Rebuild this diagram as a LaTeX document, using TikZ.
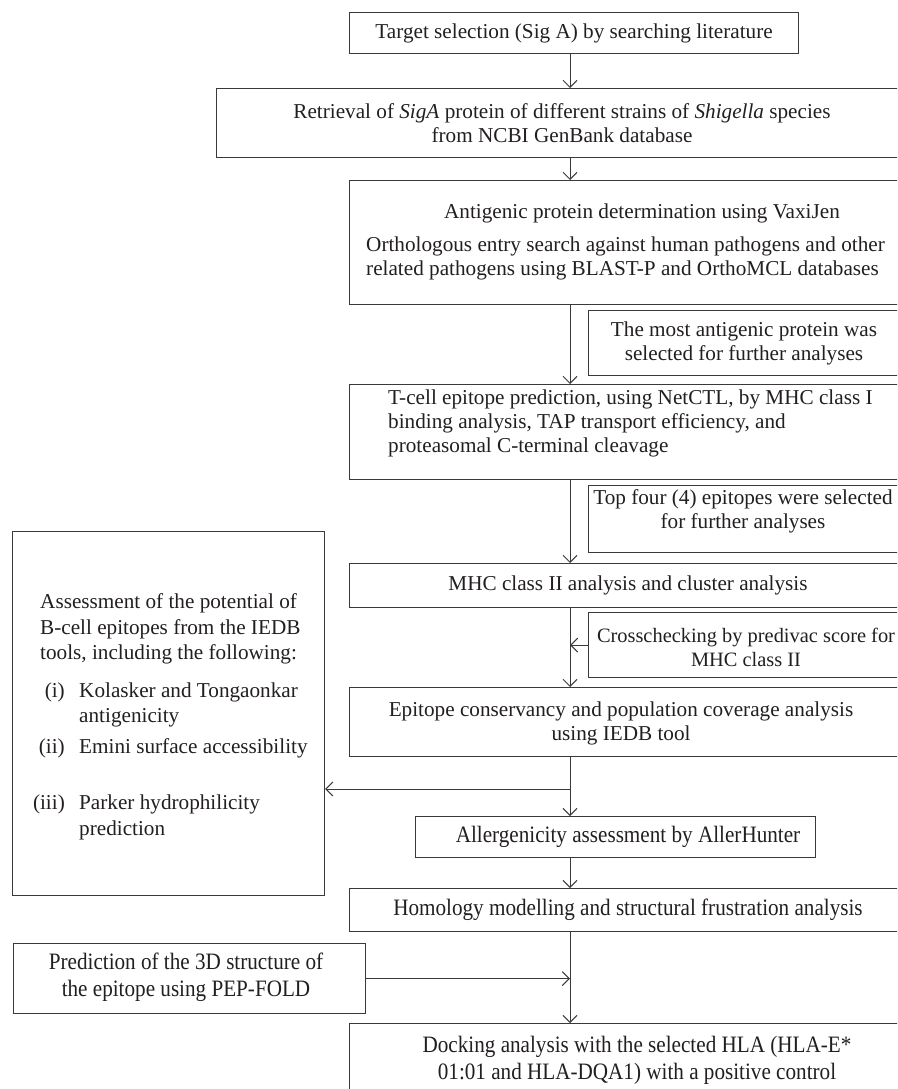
\documentclass[tikz,border=0pt]{standalone}
\usepackage{fontspec}
\setmainfont{Liberation Serif}
\newfontfamily\condfont[FakeStretch=0.9]{Liberation Serif}
\usetikzlibrary{arrows.meta}
\definecolor{ink}{HTML}{231F20}
\definecolor{edge}{HTML}{3A3A3A}
\newcommand\mybox[5]{\node[box,minimum width={(#4-#2)*1pt},minimum height={(#5-#3)*1pt}] (#1) at (#2,#3) {};}
\begin{document}
\begin{tikzpicture}[x=1pt,y=-1pt,
  box/.style={draw=edge, line width=1.2pt, inner sep=0pt, anchor=north west},
  txt/.style={inner sep=0pt, text=ink, font=\fontsize{21.2}{24}\selectfont, align=center},
  ctxt/.style={inner sep=0pt, text=ink, font=\condfont\fontsize{23.5}{27}\selectfont, align=center},
  ltxt/.style={inner sep=0pt, text=ink, font=\fontsize{21.2}{24}\selectfont, align=left, anchor=west},
  rtxt/.style={inner sep=0pt, text=ink, font=\fontsize{21.2}{24}\selectfont, anchor=east},
  arr/.style={draw=edge, line width=1pt, -{Straight Barb[length=7pt,width=14pt]}},
  ln/.style={draw=edge, line width=1pt}]
\useasboundingbox (0,0) rectangle (897,1089);
\clip (0,0) rectangle (897,1089);
\fill[white] (0,0) rectangle (897,1089);
\coordinate (col) at (570,0);
% boxes
\mybox{b1}{349}{12}{798}{53}
\mybox{b2}{216}{88}{940}{157}
\mybox{b3}{349}{180}{940}{304}
\mybox{s1}{588}{310}{940}{375}
\mybox{b4}{349}{384}{940}{479}
\mybox{s2}{588}{485}{940}{552}
\mybox{b5}{349}{563}{940}{607}
\mybox{s3}{588}{612}{940}{677}
\mybox{b6}{349}{687}{940}{756}
\mybox{L}{12}{531}{324}{895}
\mybox{b7}{415}{816}{815}{857}
\mybox{b8}{349}{888}{940}{931}
\mybox{P}{13}{943}{365}{1013}
\mybox{b9}{349}{1023}{940}{1110}
% texts
\node[txt] (t1) at (b1.center) {Target selection (Sig A) by searching literature};
\node[txt] (t2) at (562,123) {Retrieval of \textit{SigA} protein of different strains of \textit{Shigella} species\\from NCBI GenBank database};
\node[txt] (t3a) at (642,213) {Antigenic protein determination using VaxiJen};
\node[ltxt] (t3b) at (366,258) {Orthologous entry search against human pathogens and other\\related pathogens using BLAST-P and OrthoMCL databases};
\node[txt] (ts1) at (744,343) {The most antigenic protein was\\selected for further analyses};
\node[ltxt] (t4) at (388,423) {T-cell epitope prediction, using NetCTL, by MHC class I\\binding analysis, TAP transport efficiency, and\\proteasomal C-terminal cleavage};
\node[txt] (ts2) at (743,511) {Top four (4) epitopes were selected\\for further analyses};
\node[txt] (t5) at (628,585) {MHC class II analysis and cluster analysis};
\node[txt, font=\fontsize{20.4}{24}\selectfont] (ts3) at (746,647) {Crosschecking by predivac score for\\MHC class II};
\node[txt] (t6) at (621,723) {Epitope conservancy and population coverage analysis\\using IEDB tool};
\node[ctxt] (t7) at (628,837) {Allergenicity assessment by AllerHunter};
\node[ctxt] (t8) at (628,910) {Homology modelling and structural frustration analysis};
\node[ctxt] (tP) at (186,977) {Prediction of the 3D structure of\\the epitope using PEP-FOLD};
\node[ctxt] (t9) at (637,1060) {Docking analysis with the selected HLA (HLA-E*\\01:01 and HLA-DQA1) with a positive control};
% left box text
\node[ltxt] (la) at (40,603) {Assessment of the potential of};
\node[ltxt] (lb) at (40,629) {B-cell epitopes from the IEDB};
\node[ltxt] (lc) at (40,654) {tools, including the following:};
\node[rtxt] (i1) at (65,692) {(i)};
\node[ltxt] (i1a) at (79,692) {Kolasker and Tongaonkar};
\node[ltxt] (i1b) at (79,718) {antigenicity};
\node[rtxt] (i2) at (65,748) {(ii)};
\node[ltxt] (i2a) at (79,748) {Emini surface accessibility};
\node[rtxt] (i3) at (65,804) {(iii)};
\node[ltxt] (i3a) at (79,804) {Parker hydrophilicity};
\node[ltxt] (i3b) at (79,830) {prediction};
% connectors
\coordinate (j) at (570,789);
\draw[arr] (b1.south -| col) -- (b2.north -| col);
\draw[arr] (b2.south -| col) -- (b3.north -| col);
\draw[arr] (b3.south -| col) -- (b4.north -| col);
\draw[arr] (b4.south -| col) -- (b5.north -| col);
\draw[arr] (b5.south -| col) -- (b6.north -| col);
\draw[arr] (s3.west) -- (s3.west -| col);
\draw[ln] (b6.south -| col) -- (j);
\draw[arr] (j) -- (b7.north -| col);
\draw[arr] (j) -- (j -| L.east);
\draw[arr] (b7.south -| col) -- (b8.north -| col);
\draw[arr] (b8.south -| col) -- (b9.north -| col);
\draw[arr] (P.east) -- (P.east -| col);
\end{tikzpicture}
\end{document}
